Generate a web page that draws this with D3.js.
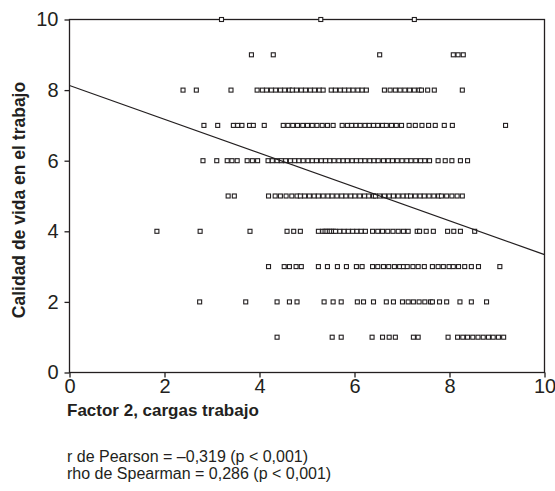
<!DOCTYPE html>
<html>
<head>
<meta charset="utf-8">
<script src="https://cdn.jsdelivr.net/npm/d3@7"></script>
<style>
  body { margin: 0; background: #fff; }
  text { font-family: "Liberation Sans", Arial, sans-serif; fill: #231f20; }
</style>
</head>
<body>
<svg id="chart" width="555" height="491"></svg>
<script>
// x values (Factor 2) for each level of "Calidad de vida"
let xAt10 = [3.20, 5.29, 7.26]
let xAt9 = [3.83, 4.29, 6.53, 8.08, 8.18, 8.29]
let xAt8 = [2.39, 2.67, 3.40, 3.95,
  4.06, 4.15, 4.25, 4.34, 4.44, 4.53, 4.63,
  4.69, 4.78, 4.88, 4.97, 5.07, 5.16, 5.26, 5.34,
  5.51, 5.60, 5.70, 5.79, 5.88, 5.97, 6.07, 6.16, 6.25,
  6.63, 6.75, 6.86, 6.96, 7.06, 7.16, 7.26, 7.36,
  7.41, 7.54, 7.68, 8.27]
let xAt7 = [2.83, 3.12, 3.45, 3.54, 3.63, 3.79, 3.87, 4.10,
  4.50, 4.60, 4.70, 4.80, 4.91, 5.01, 5.11, 5.21,
  5.32, 5.43, 5.55, 5.74,
  5.85, 5.94, 6.03, 6.12, 6.22, 6.31, 6.40, 6.49, 6.59,
  6.67, 6.78, 6.88, 6.99, 7.15, 7.28, 7.42, 7.56,
  7.70, 7.89, 8.06, 9.18]
let xAt6 = [2.81, 3.10, 3.32, 3.42, 3.53, 3.74, 3.85, 3.96,
  4.18, 4.27, 4.37, 4.46, 4.55, 4.65, 4.74, 4.83, 4.92, 5.02, 5.11, 5.20, 5.30,
  5.39, 5.48, 5.57, 5.67, 5.76, 5.85, 5.95, 6.04, 6.13, 6.22, 6.32, 6.41, 6.50,
  6.61, 6.71, 6.80, 6.90, 7.00, 7.10, 7.19, 7.29, 7.39, 7.48, 7.58,
  7.76, 7.91, 8.05, 8.23, 8.38]
let xAt5 = [3.34, 3.47, 4.19,
  4.33, 4.44, 4.56, 4.68, 4.79,
  4.86, 4.95, 5.05, 5.15, 5.24, 5.34, 5.44, 5.53, 5.63, 5.73, 5.82, 5.92, 6.01, 6.11, 6.21, 6.30, 6.40,
  6.44, 6.53, 6.63, 6.73, 6.82, 6.92, 7.02, 7.11,
  7.18, 7.28, 7.38, 7.47, 7.57, 7.67, 7.77,
  7.83, 7.94, 8.05, 8.16, 8.27]
let xAt4 = [1.84, 2.75, 3.80, 4.58, 4.72, 4.86,
  5.24, 5.33, 5.38, 5.42, 5.47, 5.51, 5.56, 5.60, 5.69, 5.78, 5.87, 5.96, 6.05, 6.14, 6.23,
  6.38, 6.49, 6.59, 6.70, 6.81, 6.92, 7.03,
  7.13, 7.32, 7.37, 7.51, 7.66, 7.96, 8.09, 8.23, 8.53]
let xAt3 = [4.19, 4.52, 4.63, 4.77, 4.88, 5.24, 5.43, 5.64, 5.83, 6.04, 6.16,
  6.38, 6.49, 6.61, 6.72, 6.84, 6.95, 7.03, 7.11, 7.23, 7.34, 7.47,
  7.64, 7.76, 7.87, 7.99, 8.08, 8.19, 8.32, 8.46, 8.61, 9.06]
let xAt2 = [2.74, 3.71, 4.37, 4.63, 4.79, 5.36, 5.55, 5.72, 6.06, 6.19, 6.40,
  6.67, 6.82, 7.01, 7.13, 7.24, 7.36, 7.48, 7.60, 7.64, 7.79, 7.94,
  8.22, 8.46, 8.78]
let xAt1 = [4.37, 5.53, 5.72, 6.37, 6.59, 6.73, 6.86, 7.24, 7.34, 7.97,
  8.17, 8.28, 8.38, 8.49, 8.60, 8.71, 8.82, 8.92, 9.03, 9.14]

let levels = [10, 9, 8, 7, 6, 5, 4, 3, 2, 1]
let rows = [xAt10, xAt9, xAt8, xAt7, xAt6, xAt5, xAt4, xAt3, xAt2, xAt1]

let tickValues = [0, 2, 4, 6, 8, 10]

// regression line
let intercept = 8.13
let slope = -0.479

let xLabel = 'Factor 2, cargas trabajo'
let yLabel = 'Calidad de vida en el trabajo'
let statLines = ['r de Pearson = \u20130,319 (p < 0,001)', 'rho de Spearman = 0,286 (p < 0,001)']

let points = []
rows.forEach((xs, i) => {
    xs.forEach((x) => points.push({x: x, y: levels[i]}))
})

let svg = d3.select('#chart')
let plotL = 69.5, plotR = 544.5, plotT = 19.5, plotB = 372.5

let xScale = d3.scaleLinear().domain([0, 10]).range([plotL, plotR])
let yScale = d3.scaleLinear().domain([0, 10]).range([plotB, plotT])

// frame
svg.append('rect')
   .attr('x', plotL)
   .attr('y', plotT)
   .attr('width', plotR - plotL)
   .attr('height', plotB - plotT)
   .attr('fill', 'none')
   .attr('stroke', '#231f20')
   .attr('stroke-width', 1.3)

let xAxis = svg.append('g')
   .attr('transform', 'translate(0,' + plotB + ')')
   .call(d3.axisBottom(xScale).tickValues(tickValues).tickSize(5).tickPadding(1).tickSizeOuter(0))
let yAxis = svg.append('g')
   .attr('transform', 'translate(' + plotL + ',0)')
   .call(d3.axisLeft(yScale).tickValues(tickValues).tickSize(5).tickPadding(6).tickSizeOuter(0))

;[xAxis, yAxis].forEach((ax) => {
    ax.select('.domain').remove()
    ax.selectAll('line').attr('stroke', '#231f20').attr('stroke-width', 1.3)
    ax.selectAll('text')
      .style('font-family', '"Liberation Sans", Arial, sans-serif')
      .style('font-size', '20px')
      .attr('fill', '#231f20')
})

// points
svg.append('g')
   .selectAll('rect')
   .data(points)
   .enter()
   .append('rect')
   .attr('x', (d) => xScale(d.x) - 2)
   .attr('y', (d) => yScale(d.y) - 2)
   .attr('width', 4)
   .attr('height', 4)
   .attr('fill', '#fff')
   .attr('stroke', '#231f20')
   .attr('stroke-width', 1.1)

// fit line
svg.append('line')
   .attr('x1', xScale(0))
   .attr('y1', yScale(intercept))
   .attr('x2', xScale(10))
   .attr('y2', yScale(intercept + slope * 10))
   .attr('stroke', '#231f20')
   .attr('stroke-width', 1.2)

svg.append('text')
   .attr('transform', 'translate(25,' + ((plotT + plotB) / 2 + 4) + ') rotate(-90)')
   .attr('text-anchor', 'middle')
   .style('font-size', '17.5px')
   .style('font-weight', 'bold')
   .text(yLabel)

svg.append('text')
   .attr('x', 67)
   .attr('y', 416)
   .style('font-size', '17px')
   .style('font-weight', 'bold')
   .text(xLabel)

svg.selectAll('.stat')
   .data(statLines)
   .enter()
   .append('text')
   .attr('class', 'stat')
   .attr('x', 67)
   .attr('y', (d, i) => 462 + i * 16.5)
   .style('font-size', '16px')
   .text((d) => d)
</script>
</body>
</html>
